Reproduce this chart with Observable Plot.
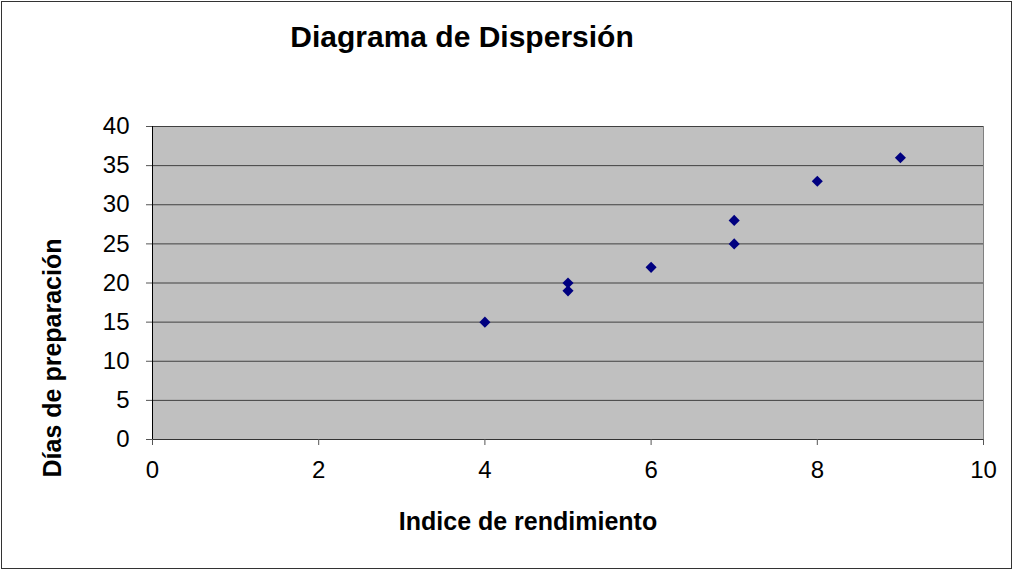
<!DOCTYPE html>
<html>
<head>
<meta charset="utf-8">
<script src="https://cdn.jsdelivr.net/npm/d3@7"></script>
<script src="https://cdn.jsdelivr.net/npm/@observablehq/plot@0.6"></script>
<style>
  html, body { margin: 0; padding: 0; background: white; }
  #chart svg { display: block; outline: 1.5px solid #333; outline-offset: -2px; }
</style>
</head>
<body>
<div id="chart"></div>
<script>
const titleText = "Diagrama de Dispersión";
const xLabel = "Indice de rendimiento";
const yLabel = "Días de preparación";
const xValues = [4, 5, 5, 6, 7, 7, 8, 9];
const yValues = [15, 20, 19, 22, 28, 25, 33, 36];
const xTicks = [0, 2, 4, 6, 8, 10];
const yTicks = [0, 5, 10, 15, 20, 25, 30, 35, 40];

const data = xValues.map((x, i) => ({x, y: yValues[i]}));

const chart = Plot.plot({
  width: 1013,
  height: 570,
  marginLeft: 152,
  marginRight: 30,
  marginTop: 126,
  marginBottom: 131,
  style: {fontFamily: "'Liberation Sans', Arial, sans-serif", fontSize: "24px", background: "white", color: "black"},
  x: {domain: [0, 10], label: null},
  y: {domain: [0, 40], label: null},
  marks: [
    Plot.frame({fill: "#c0c0c0", stroke: "#808080"}),
    Plot.gridY(yTicks, {stroke: "#404040", strokeOpacity: 1, strokeWidth: 1}),
    Plot.ruleX([0], {stroke: "black"}),
    Plot.ruleY([0], {stroke: "#333"}),
    Plot.axisY(yTicks, {tickSize: 6, tickPadding: 17, fontSize: 24, stroke: "#555"}),
    Plot.axisX(xTicks, {tickSize: 6, tickPadding: 15, fontSize: 24, stroke: "#555"}),
    Plot.dot(data, {x: "x", y: "y", symbol: "diamond2", r: 5, fill: "#000080", stroke: "none"}),
    Plot.text([titleText], {text: d => d, frameAnchor: "top", textAnchor: "middle", lineAnchor: "middle", dx: -106, dy: -89, fontSize: 30, fontWeight: "bold"}),
    Plot.text([xLabel], {text: d => d, frameAnchor: "bottom", textAnchor: "middle", lineAnchor: "middle", dx: -40, dy: 82, fontSize: 25, fontWeight: "bold"}),
    Plot.text([yLabel], {text: d => d, frameAnchor: "left", textAnchor: "middle", lineAnchor: "middle", dx: -100, dy: 75, rotate: -90, fontSize: 25, fontWeight: "bold"})
  ]
});
document.getElementById("chart").appendChild(chart);
</script>
</body>
</html>
